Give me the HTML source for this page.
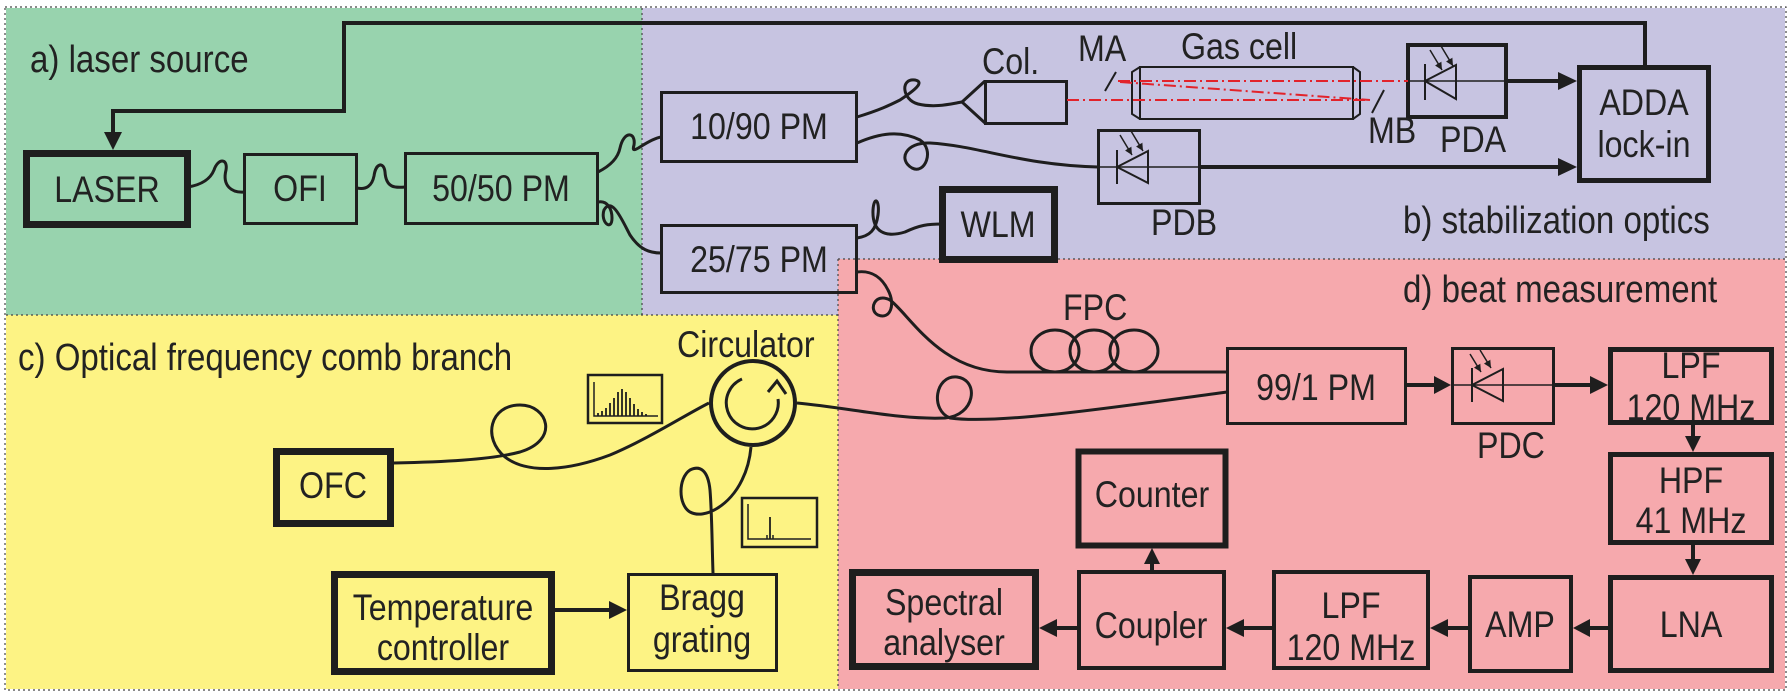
<!DOCTYPE html>
<html><head><meta charset="utf-8"><style>
html,body{margin:0;padding:0;background:#fff;}
svg{display:block;}
text{font-family:"Liberation Sans",Arial,sans-serif;fill:#222;transform-box:fill-box;}
.m text{transform-origin:center;transform:scaleX(0.87);}
.s text{transform-origin:left;transform:scaleX(0.87);}
</style></head><body>
<svg width="1791" height="697" viewBox="0 0 1791 697" xmlns="http://www.w3.org/2000/svg">
<defs>
<marker id="ah" viewBox="0 0 10 10" refX="10" refY="5" markerWidth="5" markerHeight="5" orient="auto" markerUnits="strokeWidth"><path d="M0,0 L10,5 L0,10 z" fill="#1e1e1e"/></marker>
</defs>
<rect x="6" y="8" width="636" height="307" fill="#98d3ae"/>
<rect x="642" y="8" width="1143" height="251" fill="#c7c4e1"/>
<rect x="642" y="259" width="196" height="56" fill="#c7c4e1"/>
<rect x="838" y="259" width="947" height="430" fill="#f6a9ad"/>
<rect x="6" y="315" width="832" height="374" fill="#fdf384"/>
<g stroke="#444" stroke-width="1.2" stroke-dasharray="2,3" fill="none">
<rect x="5" y="7" width="1781" height="683"/>
<line x1="642" y1="8" x2="642" y2="315"/>
<line x1="6" y1="315" x2="838" y2="315"/>
<line x1="838" y1="259" x2="838" y2="689"/>
<line x1="838" y1="259" x2="1785" y2="259"/>
</g>

<g fill="none" stroke="#1e1e1e">
<polyline points="1645,65 1645,23 344,23 344,111 113,111 113,134" stroke-width="4"/>
<polygon points="104,132 122,132 113,150" fill="#1e1e1e" stroke="none"/>

<rect x="26.5" y="153.5" width="161" height="71" stroke-width="7"/>
<rect x="244.5" y="154.5" width="112" height="69" stroke-width="3"/>
<rect x="405.5" y="153.5" width="192" height="70" stroke-width="3"/>
<rect x="661.5" y="92.5" width="195" height="69" stroke-width="3"/>
<rect x="661.5" y="225.5" width="195" height="67" stroke-width="3"/>
<rect x="942.5" y="189.5" width="112" height="70" stroke-width="7"/>
<rect x="985.5" y="81.5" width="81" height="42" stroke-width="3"/>
<polyline points="985,81 962,102 985,123" stroke-width="3"/>
<rect x="1098.5" y="130.5" width="101" height="73" stroke-width="3"/>
<rect x="1408" y="45" width="98" height="72" stroke-width="4"/>
<rect x="1579.5" y="67.5" width="129" height="113" stroke-width="5"/>

<rect x="1140" y="67" width="213" height="52" stroke-width="2"/>
<polyline points="1140,67 1132,72 1132,114 1140,119" stroke-width="2"/>
<polyline points="1353,67 1360,72 1360,114 1353,119" stroke-width="2"/>
<line x1="1116" y1="72" x2="1105" y2="91" stroke-width="2"/>
<line x1="1384" y1="90" x2="1372" y2="113" stroke-width="2"/>

<line x1="1408" y1="81" x2="1506" y2="81" stroke-width="1.5"/>
<line x1="1425" y1="64" x2="1425" y2="100" stroke-width="2"/>
<polygon points="1425,81 1456,65 1456,99" stroke-width="2" fill="none"/>
<line x1="1430" y1="50" x2="1442" y2="70" stroke-width="1.5" marker-end="url(#ah)"/>
<line x1="1441" y1="46" x2="1453" y2="66" stroke-width="1.5" marker-end="url(#ah)"/>

<line x1="1098" y1="167" x2="1200" y2="167" stroke-width="1.5"/>
<line x1="1117" y1="150" x2="1117" y2="184" stroke-width="2"/>
<polygon points="1117,167 1148,151 1148,183" stroke-width="2"/>
<line x1="1120" y1="135" x2="1132" y2="155" stroke-width="1.5" marker-end="url(#ah)"/>
<line x1="1131" y1="131" x2="1143" y2="151" stroke-width="1.5" marker-end="url(#ah)"/>

<rect x="1452.5" y="348.5" width="101" height="75" stroke-width="3"/>
<line x1="1452" y1="385" x2="1554" y2="385" stroke-width="1.5"/>
<line x1="1472" y1="368" x2="1472" y2="402" stroke-width="2"/>
<polygon points="1472,385 1503,369 1503,401" stroke-width="2"/>
<line x1="1470" y1="354" x2="1481" y2="372" stroke-width="1.5" marker-end="url(#ah)"/>
<line x1="1480" y1="350" x2="1491" y2="368" stroke-width="1.5" marker-end="url(#ah)"/>

<rect x="1227.5" y="348.5" width="178" height="75" stroke-width="3"/>
<rect x="1610.5" y="349.5" width="161" height="73" stroke-width="5"/>
<rect x="1610.5" y="454.5" width="161" height="88" stroke-width="5"/>
<rect x="1610.5" y="577.5" width="161" height="93" stroke-width="5"/>
<rect x="1470" y="577" width="101" height="94" stroke-width="4"/>
<rect x="1274" y="572" width="154" height="96" stroke-width="4"/>
<rect x="1079" y="572" width="145" height="96" stroke-width="4"/>
<rect x="1078.5" y="451.5" width="147" height="94" stroke-width="6"/>
<rect x="852.5" y="572.5" width="183" height="94" stroke-width="7"/>
<rect x="276.5" y="451.5" width="114" height="72" stroke-width="7"/>
<rect x="334.5" y="574.5" width="217" height="97" stroke-width="7"/>
<rect x="628.5" y="574.5" width="148" height="96" stroke-width="3"/>

<g stroke-width="4">
<line x1="1508" y1="81" x2="1560" y2="81"/>
<line x1="1200" y1="167" x2="1560" y2="167"/>
<line x1="1406" y1="385" x2="1436" y2="385"/>
<line x1="1555" y1="385" x2="1592" y2="385"/>
<line x1="1693" y1="425" x2="1693" y2="438"/>
<line x1="1693" y1="545" x2="1693" y2="560"/>
<line x1="1608" y1="628" x2="1588" y2="628"/>
<line x1="1468" y1="628" x2="1446" y2="628"/>
<line x1="1272" y1="628" x2="1242" y2="628"/>
<line x1="1077" y1="628" x2="1055" y2="628"/>
<line x1="1152" y1="570" x2="1152" y2="562"/>
<line x1="555" y1="610" x2="610" y2="610"/>
</g>
</g>
<g fill="#1e1e1e">
<polygon points="1558,72 1577,81 1558,90"/>
<polygon points="1558,158 1577,167 1558,176"/>
<polygon points="1434,376 1451,385 1434,394"/>
<polygon points="1590,376 1608,385 1590,394"/>
<polygon points="1685,436 1701,436 1693,452"/>
<polygon points="1685,559 1701,559 1693,575"/>
<polygon points="1590,619 1573,628 1590,637"/>
<polygon points="1448,619 1430,628 1448,637"/>
<polygon points="1244,619 1226,628 1244,637"/>
<polygon points="1057,619 1039,628 1057,637"/>
<polygon points="1144,564 1160,564 1152,548"/>
<polygon points="609,601 627,610 609,619"/>
</g>

<g stroke="#e2232b" stroke-width="2" stroke-dasharray="12,4,2,4" fill="none">
<line x1="1118" y1="81" x2="1408" y2="81"/>
<line x1="1067" y1="100" x2="1368" y2="100"/>
<line x1="1120" y1="82" x2="1370" y2="100"/>
</g>

<g fill="none" stroke="#1e1e1e" stroke-width="3">
<path d="M188,187 C200,185 210,180 214,170 C218,158 228,158 226,170 C222,186 232,193 244,192"/>
<path d="M357,188 C366,190 372,186 374,176 C376,162 384,162 385,172 C386,188 395,188 405,187"/>
<path d="M598,172 C610,166 618,158 620,148 C624,130 636,132 634,145 C630,158 645,140 661,137"/>
<path d="M598,202 C608,200 612,210 612,218 C612,232 600,222 604,210 C612,196 622,220 630,235 C640,250 650,253 661,253"/>
<path d="M857,117 C880,110 890,105 900,100 C915,90 925,82 915,80 C900,78 902,100 918,104 C935,108 950,104 962,102"/>
<path d="M857,143 C880,133 900,130 920,140 C935,150 925,175 912,168 C898,160 905,142 930,143 C980,146 1020,165 1098,167"/>
<path d="M857,238 C870,236 876,230 878,215 C880,200 874,195 873,210 C872,232 885,238 905,232 C920,225 928,224 942,224"/>
<path d="M857,272 C872,270 882,278 888,290 C896,305 890,320 878,315 C868,310 875,292 890,300 C910,315 940,372 1007,372 L1227,372"/>
<path d="M394,463 C440,462 490,460 520,452 C560,440 548,405 520,405 C490,405 482,438 505,457 C528,475 570,470 610,455 C650,438 685,415 709,403"/>
<path d="M797,403 C850,408 900,420 945,418 C975,416 980,380 957,377 C935,375 930,410 950,418 C1000,425 1130,405 1227,392"/>
<path d="M713,573 C712,545 712,515 710,490 C708,470 700,465 690,470 C678,478 678,505 690,512 C705,520 730,505 742,480 C748,468 750,458 751,447"/>
</g>
<g fill="none" stroke="#1e1e1e" stroke-width="3">
<ellipse cx="1055" cy="351" rx="24" ry="21"/>
<ellipse cx="1094" cy="351" rx="24" ry="21"/>
<ellipse cx="1134" cy="351" rx="24" ry="21"/>
</g>
<g fill="none" stroke="#1e1e1e">
<circle cx="753" cy="403" r="42" stroke-width="4"/>
<path d="M742,379 A26,26 0 1 0 778,399" stroke-width="3"/>
<polyline points="768,392 777,381 786,394" stroke-width="3"/>
</g>
<g fill="none" stroke="#1e1e1e">
<rect x="588" y="375" width="74" height="48" stroke-width="2.5"/>
<polyline points="594,382 594,416 658,416" stroke-width="1.5"/>
<g stroke-width="1.8">
<line x1="598" y1="416" x2="598" y2="413"/><line x1="602" y1="416" x2="602" y2="411"/>
<line x1="606" y1="416" x2="606" y2="408"/><line x1="610" y1="416" x2="610" y2="403"/>
<line x1="614" y1="416" x2="614" y2="398"/><line x1="618" y1="416" x2="618" y2="392"/>
<line x1="622" y1="416" x2="622" y2="389"/><line x1="626" y1="416" x2="626" y2="392"/>
<line x1="630" y1="416" x2="630" y2="398"/><line x1="634" y1="416" x2="634" y2="404"/>
<line x1="638" y1="416" x2="638" y2="409"/><line x1="642" y1="416" x2="642" y2="412"/>
<line x1="646" y1="416" x2="646" y2="414"/>
</g>
<rect x="742" y="498" width="75" height="49" stroke-width="2.5"/>
<polyline points="748,504 748,539 811,539" stroke-width="1.5"/>
<line x1="770" y1="539" x2="770" y2="517" stroke-width="1.8"/>
<line x1="767" y1="539" x2="767" y2="535" stroke-width="1.5"/>
<line x1="773" y1="539" x2="773" y2="535" stroke-width="1.5"/>
</g>

<g font-size="38" class="s">
<text x="30" y="72">a) laser source</text>
<text x="1403" y="233">b) stabilization optics</text>
<text x="18" y="370">c) Optical frequency comb branch</text>
<text x="1403" y="302">d) beat measurement</text>
</g>
<g font-size="37" text-anchor="middle" class="m">
<text x="107" y="202">LASER</text>
<text x="300" y="201">OFI</text>
<text x="501" y="201">50/50 PM</text>
<text x="759" y="139">10/90 PM</text>
<text x="759" y="272">25/75 PM</text>
<text x="998" y="237">WLM</text>
<text x="1644" y="115">ADDA</text>
<text x="1644" y="157">lock-in</text>
<text x="1316" y="400">99/1 PM</text>
<text x="1691" y="378">LPF</text>
<text x="1691" y="420">120 MHz</text>
<text x="1691" y="493">HPF</text>
<text x="1691" y="533">41 MHz</text>
<text x="1691" y="637">LNA</text>
<text x="1520" y="637">AMP</text>
<text x="1351" y="618">LPF</text>
<text x="1351" y="660">120 MHz</text>
<text x="1151" y="638">Coupler</text>
<text x="1152" y="507">Counter</text>
<text x="944" y="615">Spectral</text>
<text x="944" y="655">analyser</text>
<text x="333" y="498">OFC</text>
<text x="443" y="620">Temperature</text>
<text x="443" y="660">controller</text>
<text x="702" y="610">Bragg</text>
<text x="702" y="652">grating</text>
</g>
<g font-size="37" class="s">
<text x="982" y="74">Col.</text>
<text x="1078" y="61">MA</text>
<text x="1181" y="59">Gas cell</text>
<text x="1368" y="143">MB</text>
<text x="1440" y="152">PDA</text>
<text x="1151" y="235">PDB</text>
<text x="1063" y="320">FPC</text>
<text x="1477" y="458">PDC</text>
<text x="677" y="357">Circulator</text>
</g>
</svg>
</body></html>
